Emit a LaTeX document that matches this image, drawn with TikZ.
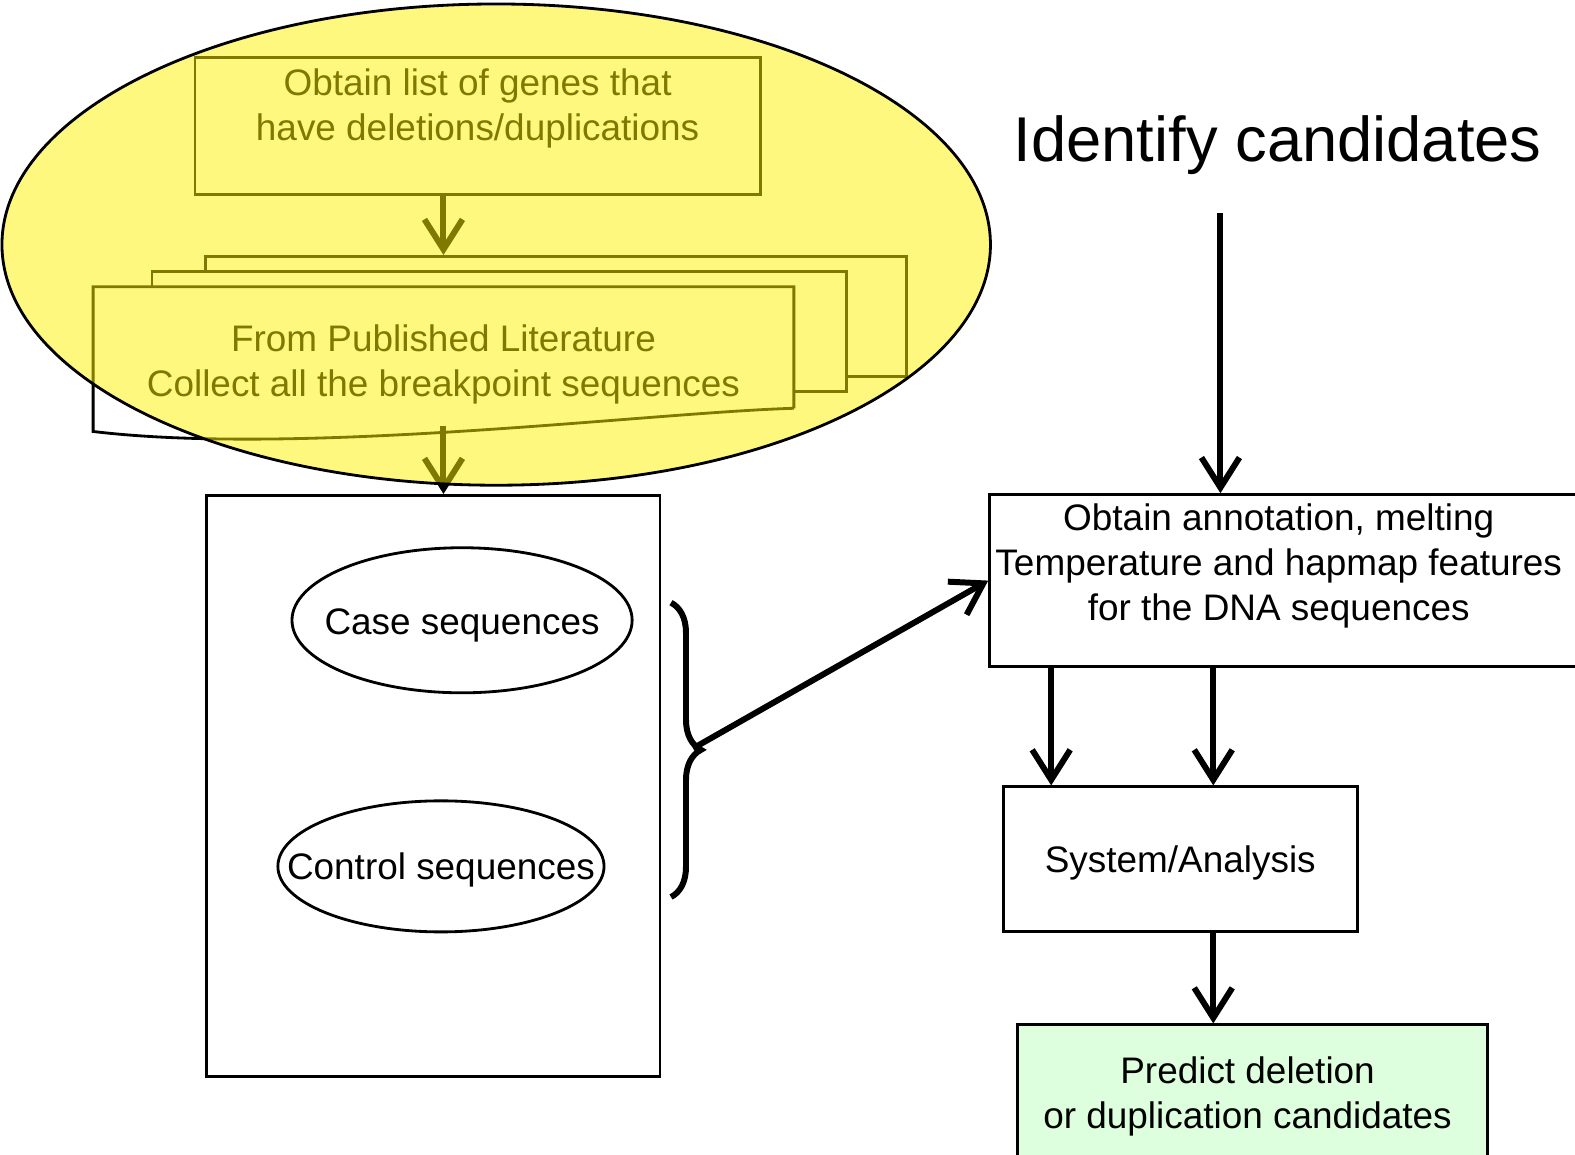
\documentclass[tikz,border=0pt]{standalone}
\usepackage{fontspec}
\setmainfont{Liberation Sans}
\usetikzlibrary{shapes.geometric,arrows.meta,decorations.pathreplacing}

\definecolor{predgreen}{RGB}{221,255,221}
\tikzset{
  box/.style={draw, line width=0.8pt, rectangle, inner sep=0pt},
  oval/.style={draw, line width=0.8pt, ellipse, inner sep=0pt},
  flow/.style={->, line width=1.7pt},
  toplbl/.style={anchor=north, inner sep=2pt, align=center},
  midlbl/.style={align=center, yshift=-0.04cm}
}

\begin{document}
\begin{tikzpicture}
	[x=0.010045cm, y=-0.010045cm, >={Straight Barb[length=3mm,width=3.8mm]},
	font=\fontsize{10.5}{12.8}\selectfont]
	\useasboundingbox (0,0) rectangle (1568,1149);
	% left column
	\node[box, minimum width=5.65cm, minimum height=1.37cm,
		label={[toplbl, yshift=-0.05cm]north:Obtain list of genes that\\have deletions/duplications}] (genes) at (475.5,125.5) {};
	\node[box, fill=white, minimum width=7.01cm, minimum height=1.2cm] (back) at (553.5,315) {};
	\node[box, fill=white, minimum width=6.94cm, minimum height=1.2cm] (mid) at (497,330) {};
	\node[fill=white, inner sep=0pt, minimum width=6.99cm, minimum height=1.2cm,
		label={[midlbl, yshift=-0.13cm]center:From Published Literature\\Collect all the breakpoint sequences}] (docs) at (441.5,346) {};
	\draw[line width=0.8pt] (docs.south east) |- (docs.north west) -- ++(0,144)
		.. controls +(208,25) and +(-141,4) .. (docs.south east);
	\node[box, minimum width=4.53cm, minimum height=5.81cm] (cont) at (431.5,782.5) {};
	\node[oval, minimum width=3.4cm, minimum height=1.45cm,
		label={[midlbl, yshift=-0.01cm]center:Case sequences}] (case) at (460,617.5) {};
	\node[oval, minimum width=3.26cm, minimum height=1.31cm,
		label={[midlbl]center:Control sequences}] (control) at (439,862.5) {};
	\draw[line width=1.7pt, decorate, decoration={brace, amplitude=0.3cm}] (668,600) -- (668,893);
	\coordinate (bracetip) at (690,745);
	\path[flow] (docs.north |- genes.south) edge (docs.north |- back.north)
		([yshift=-0.18cm]docs.south) edge (docs.south |- cont.north);

	% right column
	\node[font=\fontsize{18}{21}\selectfont] (ident) at (1272,144) {Identify candidates};
	\node[box, minimum width=5.96cm, minimum height=1.72cm,
		label={[toplbl, inner sep=1pt, xshift=-0.09cm, yshift=-0.06cm]north:Obtain annotation, melting\\Temperature and hapmap features\\for the DNA sequences}] (annot) at (1282,578) {};
	\node[box, minimum width=3.54cm, minimum height=1.45cm,
		label={[midlbl]center:System/Analysis}] (sys) at (1175,855.5) {};
	\node[box, fill=predgreen, minimum width=4.7cm, minimum height=1.4cm,
		label={[midlbl, xshift=-0.05cm, yshift=0.02cm]center:Predict deletion\\or duplication candidates}] (pred) at (1247,1090) {};
	\coordinate (idfoot) at (1215,212);
	\coordinate (s1) at ([xshift=-1.29cm]sys.north);
	\coordinate (s2) at ([xshift=0.33cm]sys.north);
	\coordinate (s3) at ([xshift=0.33cm]sys.south);
	\path[flow] (idfoot) edge (idfoot |- annot.north)
		(bracetip) edge (annot.west)
		(s1 |- annot.south) edge (s1)
		(s2 |- annot.south) edge (s2)
		(s3) edge (s3 |- pred.north);

	% yellow group drawn over the first steps
	\node[ellipse, draw, line width=0.8pt, fill=yellow, fill opacity=0.5,
		minimum width=9.88cm, minimum height=4.81cm] (group) at (494,243.5) {};
\end{tikzpicture}
\end{document}
